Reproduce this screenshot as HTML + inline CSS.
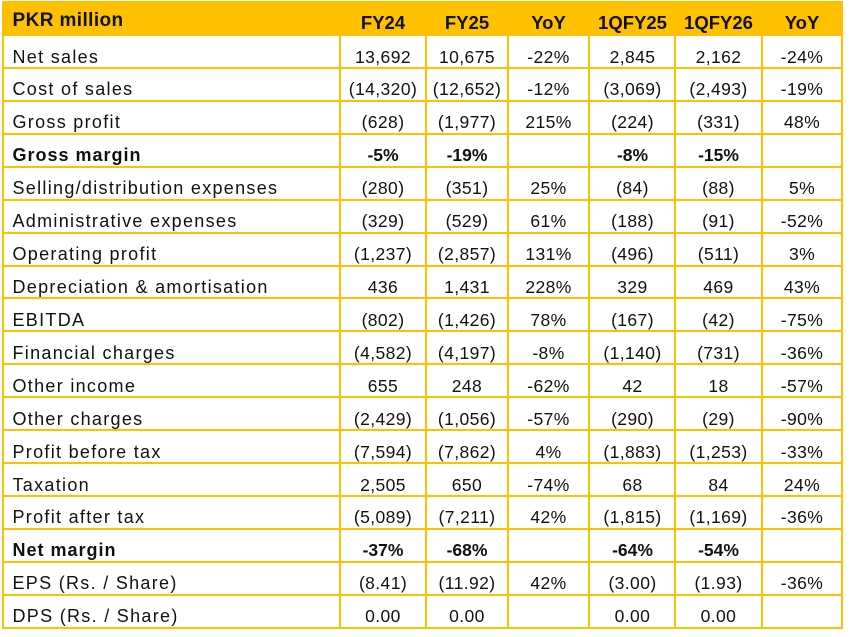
<!DOCTYPE html>
<html>
<head>
<meta charset="utf-8">
<style>
html,body{margin:0;padding:0;background:#fff;}
body{width:851px;height:637px;position:relative;overflow:hidden;font-family:"Liberation Sans",Arial,sans-serif;color:#111;}
.hdr{position:absolute;left:2px;top:1px;width:841px;height:35px;background:#FFC000;}
.h{position:absolute;height:2px;left:2px;width:841px;background:#FFC000;}
.v{position:absolute;width:2px;top:36px;height:593px;background:#FFC000;}
.r{position:absolute;left:0;width:851px;height:20px;line-height:20px;font-size:17.5px;letter-spacing:0.4px;white-space:nowrap;}
.r span{position:absolute;top:0;text-align:center;}
.r .l{left:12.5px;text-align:left;font-size:18px;letter-spacing:1.3px;}
.r.b{font-weight:bold;letter-spacing:0;}
.r.b .l{letter-spacing:1px;}
.c1{left:341px;width:84px;}
.c2{left:427px;width:80px;}
.c3{left:509px;width:79px;}
.c4{left:590px;width:85px;}
.c5{left:676px;width:85px;}
.c6{left:763px;width:78px;}
.hr{position:absolute;left:0;width:851px;height:20px;line-height:20px;font-weight:bold;font-size:18.5px;white-space:nowrap;}
.hr span{position:absolute;top:0;text-align:center;}
.hr .l{left:12.5px;text-align:left;font-size:19px;letter-spacing:0.4px;}
</style>
</head>
<body>
<div class="hdr"></div>
<div class="hr" style="top:10.5px"><span class="l">PKR million</span></div>
<div class="hr" style="top:12.5px">
<span class="c1">FY24</span><span class="c2">FY25</span><span class="c3">YoY</span><span class="c4">1QFY25</span><span class="c5">1QFY26</span><span class="c6">YoY</span>
</div>

<!-- horizontal lines -->
<div class="h" style="top:67px"></div>
<div class="h" style="top:99.9px"></div>
<div class="h" style="top:132.8px"></div>
<div class="h" style="top:165.8px"></div>
<div class="h" style="top:198.7px"></div>
<div class="h" style="top:231.6px"></div>
<div class="h" style="top:264.5px"></div>
<div class="h" style="top:297.4px"></div>
<div class="h" style="top:330.4px"></div>
<div class="h" style="top:363.3px"></div>
<div class="h" style="top:396.2px"></div>
<div class="h" style="top:429.1px"></div>
<div class="h" style="top:462px"></div>
<div class="h" style="top:495px"></div>
<div class="h" style="top:527.9px"></div>
<div class="h" style="top:560.8px"></div>
<div class="h" style="top:593.7px"></div>
<div class="h" style="top:626.6px"></div>

<!-- vertical lines -->
<div class="v" style="left:2px"></div>
<div class="v" style="left:339px"></div>
<div class="v" style="left:425px"></div>
<div class="v" style="left:507px"></div>
<div class="v" style="left:588px"></div>
<div class="v" style="left:674px"></div>
<div class="v" style="left:761px"></div>
<div class="v" style="left:841px"></div>

<div class="r" style="top:46.5px"><span class="l">Net sales</span><span class="c1">13,692</span><span class="c2">10,675</span><span class="c3">-22%</span><span class="c4">2,845</span><span class="c5">2,162</span><span class="c6">-24%</span></div>
<div class="r" style="top:79.4px"><span class="l">Cost of sales</span><span class="c1">(14,320)</span><span class="c2">(12,652)</span><span class="c3">-12%</span><span class="c4">(3,069)</span><span class="c5">(2,493)</span><span class="c6">-19%</span></div>
<div class="r" style="top:112.3px"><span class="l">Gross profit</span><span class="c1">(628)</span><span class="c2">(1,977)</span><span class="c3">215%</span><span class="c4">(224)</span><span class="c5">(331)</span><span class="c6">48%</span></div>
<div class="r b" style="top:145.3px"><span class="l">Gross margin</span><span class="c1">-5%</span><span class="c2">-19%</span><span class="c4">-8%</span><span class="c5">-15%</span></div>
<div class="r" style="top:178.2px"><span class="l">Selling/distribution expenses</span><span class="c1">(280)</span><span class="c2">(351)</span><span class="c3">25%</span><span class="c4">(84)</span><span class="c5">(88)</span><span class="c6">5%</span></div>
<div class="r" style="top:211.1px"><span class="l">Administrative expenses</span><span class="c1">(329)</span><span class="c2">(529)</span><span class="c3">61%</span><span class="c4">(188)</span><span class="c5">(91)</span><span class="c6">-52%</span></div>
<div class="r" style="top:244px"><span class="l">Operating profit</span><span class="c1">(1,237)</span><span class="c2">(2,857)</span><span class="c3">131%</span><span class="c4">(496)</span><span class="c5">(511)</span><span class="c6">3%</span></div>
<div class="r" style="top:276.9px"><span class="l">Depreciation &amp; amortisation</span><span class="c1">436</span><span class="c2">1,431</span><span class="c3">228%</span><span class="c4">329</span><span class="c5">469</span><span class="c6">43%</span></div>
<div class="r" style="top:309.9px"><span class="l">EBITDA</span><span class="c1">(802)</span><span class="c2">(1,426)</span><span class="c3">78%</span><span class="c4">(167)</span><span class="c5">(42)</span><span class="c6">-75%</span></div>
<div class="r" style="top:342.8px"><span class="l">Financial charges</span><span class="c1">(4,582)</span><span class="c2">(4,197)</span><span class="c3">-8%</span><span class="c4">(1,140)</span><span class="c5">(731)</span><span class="c6">-36%</span></div>
<div class="r" style="top:375.7px"><span class="l">Other income</span><span class="c1">655</span><span class="c2">248</span><span class="c3">-62%</span><span class="c4">42</span><span class="c5">18</span><span class="c6">-57%</span></div>
<div class="r" style="top:408.6px"><span class="l">Other charges</span><span class="c1">(2,429)</span><span class="c2">(1,056)</span><span class="c3">-57%</span><span class="c4">(290)</span><span class="c5">(29)</span><span class="c6">-90%</span></div>
<div class="r" style="top:441.5px"><span class="l">Profit before tax</span><span class="c1">(7,594)</span><span class="c2">(7,862)</span><span class="c3">4%</span><span class="c4">(1,883)</span><span class="c5">(1,253)</span><span class="c6">-33%</span></div>
<div class="r" style="top:474.5px"><span class="l">Taxation</span><span class="c1">2,505</span><span class="c2">650</span><span class="c3">-74%</span><span class="c4">68</span><span class="c5">84</span><span class="c6">24%</span></div>
<div class="r" style="top:507.4px"><span class="l">Profit after tax</span><span class="c1">(5,089)</span><span class="c2">(7,211)</span><span class="c3">42%</span><span class="c4">(1,815)</span><span class="c5">(1,169)</span><span class="c6">-36%</span></div>
<div class="r b" style="top:540.3px"><span class="l">Net margin</span><span class="c1">-37%</span><span class="c2">-68%</span><span class="c4">-64%</span><span class="c5">-54%</span></div>
<div class="r" style="top:573.2px"><span class="l">EPS (Rs. / Share)</span><span class="c1">(8.41)</span><span class="c2">(11.92)</span><span class="c3">42%</span><span class="c4">(3.00)</span><span class="c5">(1.93)</span><span class="c6">-36%</span></div>
<div class="r" style="top:606.1px"><span class="l">DPS (Rs. / Share)</span><span class="c1">0.00</span><span class="c2">0.00</span><span class="c4">0.00</span><span class="c5">0.00</span></div>
</body>
</html>
